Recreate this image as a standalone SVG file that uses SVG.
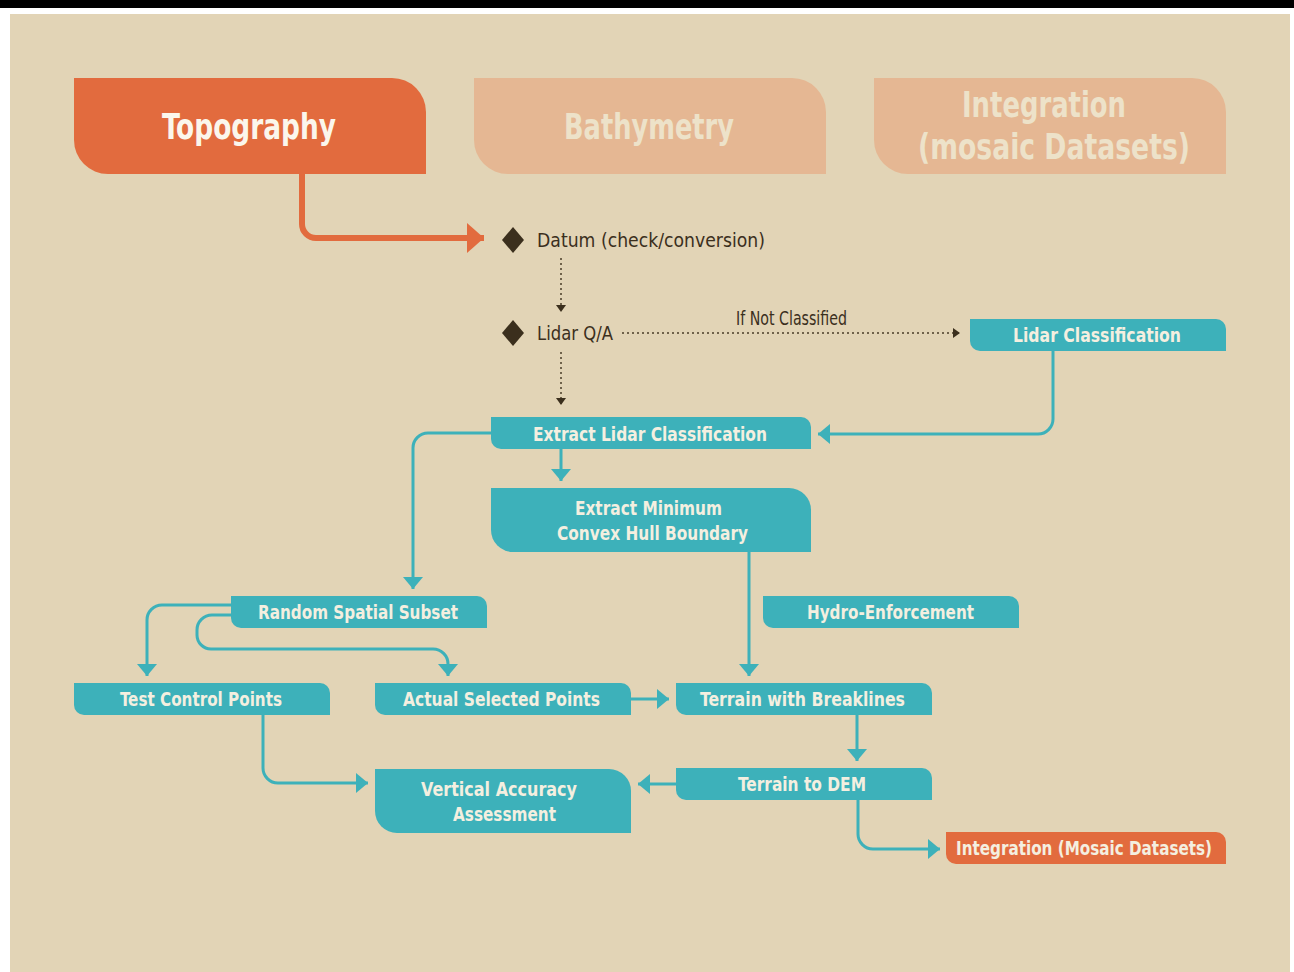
<svg xmlns="http://www.w3.org/2000/svg" width="1294" height="972" viewBox="0 0 1294 972">
<style>
.teal{fill:#3db1ba}
.org{fill:#e26b3e}
.lorg{fill:#e5b793}
.lbl{font-family:"DejaVu Sans Condensed","DejaVu Sans",sans-serif;font-weight:bold;font-size:19px;fill:#f4efe0}
.hdr{font-family:"DejaVu Sans Condensed","DejaVu Sans",sans-serif;font-weight:bold;font-size:35px}
.dark{font-family:"DejaVu Sans Condensed","DejaVu Sans",sans-serif;font-size:19px;fill:#3b2f1d}
.con{fill:none;stroke:#3db1ba;stroke-width:3}
.dot{fill:none;stroke:#4a3c28;stroke-width:1.5;stroke-dasharray:2 3}
</style>
<defs>
<marker id="ta" markerUnits="userSpaceOnUse" markerWidth="12" markerHeight="20" refX="12" refY="10" orient="auto" viewBox="0 0 12 20"><path d="M0,0 L12,10 L0,20 Z" fill="#3db1ba"/></marker>
<marker id="oa" markerUnits="userSpaceOnUse" markerWidth="17" markerHeight="30" refX="17" refY="15" orient="auto" viewBox="0 0 17 30"><path d="M0,0 L17,15 L0,30 Z" fill="#e26b3e"/></marker>
<marker id="da" markerUnits="userSpaceOnUse" markerWidth="7" markerHeight="10" refX="7" refY="5" orient="auto" viewBox="0 0 7 10"><path d="M0,0 L7,5 L0,10 Z" fill="#3b2f1d"/></marker>
</defs>
<rect x="0" y="0" width="1294" height="972" fill="#ffffff"/>
<rect x="0" y="0" width="1294" height="8" fill="#000000"/>
<rect x="10" y="14" width="1280" height="958" fill="#e2d4b6"/>

<g id="connectors">
<path d="M302,174 V224 A14,14 0 0 0 316,238 H484" fill="none" stroke="#e26b3e" stroke-width="6" marker-end="url(#oa)"/>
<path class="dot" d="M561,258 V312" marker-end="url(#da)"/>
<path class="dot" d="M622,333 H960" marker-end="url(#da)"/>
<path class="dot" d="M561,352 V405" marker-end="url(#da)"/>
<path class="con" d="M1053,351 V419 A15,15 0 0 1 1038,434 H818" marker-end="url(#ta)"/>
<path class="con" d="M491,433 H428 A15,15 0 0 0 413,448 V589" marker-end="url(#ta)"/>
<path class="con" d="M561,449 V481" marker-end="url(#ta)"/>
<path class="con" d="M749,552 V676" marker-end="url(#ta)"/>
<path class="con" d="M231,605 H162 A15,15 0 0 0 147,620 V676" marker-end="url(#ta)"/>
<path class="con" d="M231,615 H212 A15,15 0 0 0 197,630 V635 A14,14 0 0 0 211,649 H433 A15,15 0 0 1 448,664 V676" marker-end="url(#ta)"/>
<path class="con" d="M631,699 H669" marker-end="url(#ta)"/>
<path class="con" d="M857,715 V761" marker-end="url(#ta)"/>
<path class="con" d="M263,714 V768 A15,15 0 0 0 278,783 H368" marker-end="url(#ta)"/>
<path class="con" d="M676,784 H638" marker-end="url(#ta)"/>
<path class="con" d="M858,800 V834 A15,15 0 0 0 873,849 H940" marker-end="url(#ta)"/>
</g>

<g id="topography">
<path class="org" d="M74,78 H392 A34,34 0 0 1 426,112 V174 H108 A34,34 0 0 1 74,140 Z"/>
<text class="hdr" x="162" y="139" textLength="174" lengthAdjust="spacingAndGlyphs" fill="#fbf6ec">Topography</text>
</g>
<g id="bathymetry">
<path class="lorg" d="M474,78 H792 A34,34 0 0 1 826,112 V174 H508 A34,34 0 0 1 474,140 Z"/>
<text class="hdr" x="564" y="139" textLength="170" lengthAdjust="spacingAndGlyphs" fill="#ede2c9">Bathymetry</text>
</g>
<g id="integration-header">
<path class="lorg" d="M874,78 H1192 A34,34 0 0 1 1226,112 V174 H908 A34,34 0 0 1 874,140 Z"/>
<text class="hdr" x="962" y="117" textLength="164" lengthAdjust="spacingAndGlyphs" fill="#ede2c9">Integration</text>
<text class="hdr" x="918" y="159" textLength="272" lengthAdjust="spacingAndGlyphs" fill="#ede2c9">(mosaic Datasets)</text>
</g>

<g id="datum">
<path d="M513,227 L524,240 L513,253 L502,240 Z" fill="#3b2f1d"/>
<text class="dark" x="537" y="247" textLength="228" lengthAdjust="spacingAndGlyphs">Datum (check/conversion)</text>
</g>
<g id="lidar-qa">
<path d="M513,320 L524,333 L513,346 L502,333 Z" fill="#3b2f1d"/>
<text class="dark" x="537" y="340" textLength="76" lengthAdjust="spacingAndGlyphs">Lidar Q/A</text>
</g>
<g id="if-not-classified">
<text class="dark" x="736" y="325" font-size="15" textLength="111" lengthAdjust="spacingAndGlyphs">If Not Classified</text>
</g>

<g id="lidar-classification">
<path class="teal" d="M970,319 H1216 A10,10 0 0 1 1226,329 V351 H980 A10,10 0 0 1 970,341 Z"/>
<text class="lbl" x="1013" y="342" textLength="168" lengthAdjust="spacingAndGlyphs">Lidar Classification</text>
</g>
<g id="extract-lidar-classification">
<path class="teal" d="M491,417 H801 A10,10 0 0 1 811,427 V449 H501 A10,10 0 0 1 491,439 Z"/>
<text class="lbl" x="533" y="441" textLength="234" lengthAdjust="spacingAndGlyphs">Extract Lidar Classification</text>
</g>
<g id="extract-minimum">
<path class="teal" d="M491,488 H789 A22,22 0 0 1 811,510 V552 H513 A22,22 0 0 1 491,530 Z"/>
<text class="lbl" x="575" y="515" textLength="147" lengthAdjust="spacingAndGlyphs">Extract Minimum</text>
<text class="lbl" x="557" y="540" textLength="191" lengthAdjust="spacingAndGlyphs">Convex Hull Boundary</text>
</g>
<g id="random-spatial-subset">
<path class="teal" d="M231,596 H477 A10,10 0 0 1 487,606 V628 H241 A10,10 0 0 1 231,618 Z"/>
<text class="lbl" x="258" y="619" textLength="200" lengthAdjust="spacingAndGlyphs">Random Spatial Subset</text>
</g>
<g id="hydro-enforcement">
<path class="teal" d="M763,596 H1009 A10,10 0 0 1 1019,606 V628 H773 A10,10 0 0 1 763,618 Z"/>
<text class="lbl" x="807" y="619" textLength="167" lengthAdjust="spacingAndGlyphs">Hydro-Enforcement</text>
</g>
<g id="test-control-points">
<path class="teal" d="M74,683 H320 A10,10 0 0 1 330,693 V715 H84 A10,10 0 0 1 74,705 Z"/>
<text class="lbl" x="120" y="706" textLength="162" lengthAdjust="spacingAndGlyphs">Test Control Points</text>
</g>
<g id="actual-selected-points">
<path class="teal" d="M375,683 H621 A10,10 0 0 1 631,693 V715 H385 A10,10 0 0 1 375,705 Z"/>
<text class="lbl" x="403" y="706" textLength="197" lengthAdjust="spacingAndGlyphs">Actual Selected Points</text>
</g>
<g id="terrain-with-breaklines">
<path class="teal" d="M676,683 H922 A10,10 0 0 1 932,693 V715 H686 A10,10 0 0 1 676,705 Z"/>
<text class="lbl" x="700" y="706" textLength="205" lengthAdjust="spacingAndGlyphs">Terrain with Breaklines</text>
</g>
<g id="vertical-accuracy-assessment">
<path class="teal" d="M375,769 H609 A22,22 0 0 1 631,791 V833 H397 A22,22 0 0 1 375,811 Z"/>
<text class="lbl" x="421" y="796" textLength="156" lengthAdjust="spacingAndGlyphs">Vertical Accuracy</text>
<text class="lbl" x="453" y="821" textLength="103" lengthAdjust="spacingAndGlyphs">Assessment</text>
</g>
<g id="terrain-to-dem">
<path class="teal" d="M676,768 H922 A10,10 0 0 1 932,778 V800 H686 A10,10 0 0 1 676,790 Z"/>
<text class="lbl" x="738" y="791" textLength="128" lengthAdjust="spacingAndGlyphs">Terrain to DEM</text>
</g>
<g id="integration-mosaic-datasets">
<path class="org" d="M946,832 H1216 A10,10 0 0 1 1226,842 V864 H956 A10,10 0 0 1 946,854 Z"/>
<text class="lbl" x="956" y="855" textLength="256" lengthAdjust="spacingAndGlyphs">Integration (Mosaic Datasets)</text>
</g>
</svg>
